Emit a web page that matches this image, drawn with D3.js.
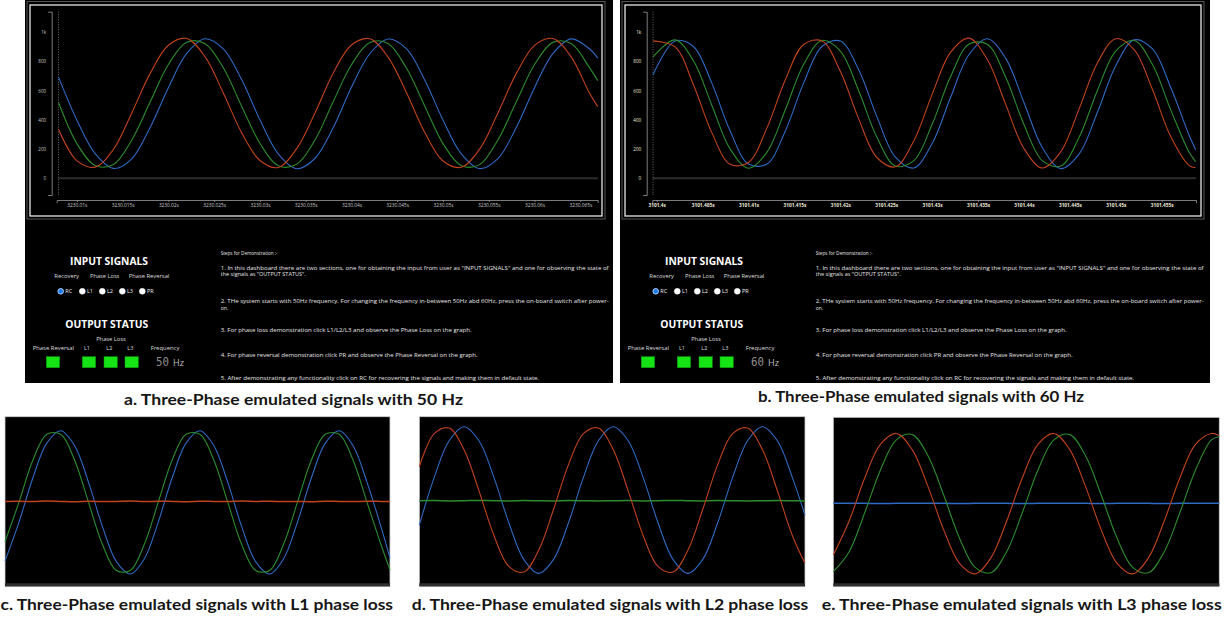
<!DOCTYPE html>
<html>
<head>
<meta charset="utf-8">
<script src="https://d3js.org/d3.v7.min.js"></script>
<style>
  body { margin: 0; background: #fff; }
  svg { display: block; }
</style>
</head>
<body>
<svg id="chart" width="1229" height="617"></svg>
<script>
// ---------- data ----------
// a. 50 Hz run, time in ms after 3230 s
var aTime = [8,10,12,14,16,18,20,22,24,26,28,30,32,34,36,38,40,42,44,46,48,50,52,54,56,58,60,62,64,66,66.9];
var aL1 = [335,120,76,198,447,716,910,957,832,584, 312,121,73,201,444,719,912,955,829,587, 314,118,75,199,446,716,909,956,831,583, 490];
var aL2 = [518,238,87,94,262,521,779,931,921,756, 493,239,85,95,260,523,777,929,923,754, 495,237,86,93,262,521,778,930,922,757, 668];
var aL3 = [692,398,168,67,133,347,620,854,955,885, 675,400,166,65,135,345,622,852,953,887, 673,398,167,66,134,347,620,853,954,886, 822];
var aTickMs = [10,15,20,25,30,35,40,45,50,55,60,65];
var aTickLabels = ["3230.01s","3230.015s","3230.02s","3230.025s","3230.03s","3230.035s","3230.04s","3230.045s","3230.05s","3230.055s","3230.06s","3230.065s"];

// b. 60 Hz run, time in ms after 3101.4 s
var bTime = [-0.4,2,4,6,8,10,12,14,16,18,20,22,24,26,28,30,32,34,36,38,40,42,44,46,48,50,52,54,56,58,58.7];
var bL1 = [940,899,640,312,95,108,343,672,915,940,732,406,140,78,255,574,861,959,814,507,203,70,180,473,789,955,881,607,283,86,72];
var bL2 = [830,947,804,500,200,68,177,467,779,943,870,599,278,83,120,369,694,917,917,693,368,120,83,279,600,870,943,778,466,177,114];
var bL3 = [708,939,902,651,323,97,97,322,651,902,939,742,418,144,70,237,552,845,955,822,518,210,66,165,451,770,947,885,619,292,195];
var bTickMs = [0,5,10,15,20,25,30,35,40,45,50,55];
var bTickLabels = ["3101.4s","3101.405s","3101.41s","3101.415s","3101.42s","3101.425s","3101.43s","3101.435s","3101.44s","3101.445s","3101.45s","3101.455s"];

var yTicks = [0,200,400,600,800,1000];
var yTickLabels = ["0","200","400","600","800","1k"];

// c. L1 lost
var cTime = [0,2,4,6,8,10,12,14,16,18,20,22,24,26,28,30,32,34,36,38,40,42,44,46,48,50,52,54,55.3];
var cL1 = [521,522,520,523,521,519,522,520,521,523,520,522,521,519,522,521,520,523,521,522,520,521,519,522,521,520,522,521,520];
var cL2 = [270,515,777,938,938,777,515,253,92,92, 253,515,777,938,938,777,515,253,92,92, 253,515,777,938,938,777,515,253, 95];
var cL3 = [150,391,666,883,960,867,639,364,147,70, 163,391,666,883,960,867,639,364,147,70, 163,391,666,883,960,867,639,364, 168];

// d. L2 lost
var dTime = [0,2,4,6,8,10,12,14,16,18,20,22,24,26,28,30,32,34,36,38,40,42,44,46,48,50,51.7];
var dL1 = [717,918,952,820,571,300,112,78,210,459, 730,918,952,820,571,300,112,78,210,459, 730,918,952,820,571,300, 131];
var dL2 = [511,512,510,511,513,511,510,512,511,510,512,511,510,511,512,510,511,513,511,510,512,511,510,511,512,511,510];
var dL3 = [363,653,875,960,875,653,377,155,70,155, 377,653,875,960,875,653,377,155,70,155, 377,653,875,960,875,653, 424];

// e. L3 lost
var eTime = [0,2,4,6,8,10,12,14,16,18,20,22,24,26,28,30,32,34,36,38,40,42,44,46,48,49];
var eL1 = [190,404,679,891,959,858,626,351,139,71, 172,404,679,891,959,858,626,351,139,71, 172,404,679,891,959, 945];
var eL2 = [85,210,459,730,918,952,820,571,300,112, 78,210,459,730,918,952,820,571,300,112, 78,210,459,730,918, 940];
var eL3 = [517,518,517,516,517,518,517,517,516,517,518,517,516,517,518,517,517,516,517,518,517,516,517,518,517,517];

var steps = [
  "Steps for Demonstration :-",
  "1. In this dashboard there are two sections, one for obtaining the input from user as \"INPUT SIGNALS\" and one for observing the state of",
  "the signals as \"OUTPUT STATUS\".",
  "2. THe system starts with 50Hz frequency. For changing the frequency in-between 50Hz abd 60Hz, press the on-board switch after power-",
  "on.",
  "3. For phase loss demonstration click L1/L2/L3 and observe the Phase Loss on the graph.",
  "4. For phase reversal demonstration click PR and observe the Phase Reversal on the graph.",
  "5. After demonstrating any functionality click on RC for recovering the signals and making them in default state."
];

// ---------- drawing ----------
var svg = d3.select("#chart");
var COL = { L1: "#c0421c", L2: "#2c8c2e", L3: "#2e69c2" };
var UI = "'Open Sans', 'Noto Sans', sans-serif";

function txt(g, x, y, s, size, o) {
  o = o || {};
  var t = g.append("text").attr("x", x).attr("y", y).text(s)
    .attr("font-family", o.family || UI)
    .attr("font-size", size)
    .attr("font-weight", o.weight || "normal")
    .attr("fill", o.fill || "#ddd")
    .attr("text-anchor", o.anchor || "start");
  if (o.len) t.attr("textLength", o.len).attr("lengthAdjust", "spacingAndGlyphs");
  return t;
}

function dashboard(p) {
  var g = svg.append("g").attr("transform", "translate(" + p.dx + ",0)");
  g.append("rect").attr("x", 25).attr("y", 0).attr("width", p.bgW).attr("height", 383).attr("fill", "#000");
  g.append("rect").attr("x", 27).attr("y", 1.5).attr("width", p.frameW + 6).attr("height", 217.5)
    .attr("fill", "none").attr("stroke", "#555").attr("stroke-width", 1);
  g.append("rect").attr("x", 30).attr("y", 5).attr("width", p.frameW).attr("height", 211)
    .attr("fill", "none").attr("stroke", "#e6e6e6").attr("stroke-width", 1.3);

  var x = d3.scaleLinear().domain(p.xDomain).range(p.xRange);
  var y = d3.scaleLinear().domain([-115, 1140]).range([195, 11.7]);

  // zero line and start marker
  g.append("line").attr("x1", x(p.time[0])).attr("x2", p.xRange[1])
    .attr("y1", y(0)).attr("y2", y(0)).attr("stroke", "#2c2c2c").attr("stroke-width", 2);
  g.append("line").attr("x1", x(p.time[0])).attr("x2", x(p.time[0]))
    .attr("y1", 11.7).attr("y2", 195).attr("stroke", "#999").attr("stroke-width", 0.7)
    .attr("stroke-dasharray", "1,1.5");

  var ya = g.append("g").attr("transform", "translate(" + p.yAxisX + ",0)")
    .call(d3.axisLeft(y).tickValues(yTicks)
      .tickFormat(function(d) { return yTickLabels[yTicks.indexOf(d)]; })
      .tickSizeInner(0).tickSizeOuter(3.5).tickPadding(5.5));
  var xa = g.append("g").attr("transform", "translate(0,200)")
    .call(d3.axisBottom(x).tickValues(p.ticks)
      .tickFormat(function(d) { return p.tickLabels[p.ticks.indexOf(d)]; })
      .tickSizeInner(2).tickSizeOuter(3).tickPadding(1.5));
  [ya, xa].forEach(function(a) {
    a.select(".domain").attr("stroke", "#9a9a9a").attr("stroke-width", 0.8);
    a.selectAll(".tick line").attr("stroke", "#9a9a9a").attr("stroke-width", 0.7);
    a.selectAll("text").attr("font-family", UI).attr("fill", p.labelFill);
  });
  ya.selectAll("text").attr("font-size", 4.6);
  xa.selectAll("text").attr("font-size", 4.8).attr("font-weight", p.labelWeight);

  var line = d3.line().curve(d3.curveCatmullRom.alpha(0.5))
    .x(function(d, i) { return x(p.time[i]); })
    .y(function(d) { return y(d); });
  [["L3", p.L3], ["L2", p.L2], ["L1", p.L1]].forEach(function(s) {
    g.append("path").attr("d", line(s[1])).attr("fill", "none")
      .attr("stroke", COL[s[0]]).attr("stroke-width", 1.1);
  });

  // controls
  txt(g, 109, 265, "INPUT SIGNALS", 10.5, { weight: "bold", fill: "#fff", anchor: "middle", len: 78 });
  txt(g, 66.7, 278.3, "Recovery", 5.5, { anchor: "middle", len: 24.7 });
  txt(g, 104.7, 278.3, "Phase Loss", 5.5, { anchor: "middle", len: 29.3 });
  txt(g, 149, 278.3, "Phase Reversal", 5.5, { anchor: "middle", len: 40.7 });
  var radios = [["RC", 60.7], ["L1", 82.3], ["L2", 102.3], ["L3", 122.3], ["PR", 142.3]];
  radios.forEach(function(r, i) {
    g.append("circle").attr("cx", r[1]).attr("cy", 291.3).attr("r", i === 0 ? 2.8 : 3)
      .attr("fill", i === 0 ? "#1e78e6" : "#fff")
      .attr("stroke", i === 0 ? "#bcd8ff" : "#fff").attr("stroke-width", i === 0 ? 0.9 : 0.4);
    txt(g, r[1] + 4.6, 293.2, r[0], 5.5, { fill: "#eee" });
  });
  txt(g, 106.7, 327.6, "OUTPUT STATUS", 10.5, { weight: "bold", fill: "#fff", anchor: "middle", len: 83 });
  txt(g, 111, 341, "Phase Loss", 5.5, { anchor: "middle", len: 29.7 });
  [["Phase Reversal", 53.3, 41.3], ["L1", 87, 0], ["L2", 109.3, 0], ["L3", 130.3, 0], ["Frequency", 165, 28.7]]
    .forEach(function(l) { txt(g, l[1], 350.3, l[0], 5.5, { anchor: "middle", len: l[2] || null }); });
  [46.3, 82.3, 104, 125].forEach(function(bx) {
    g.append("rect").attr("x", bx).attr("y", 356.7).attr("width", 13.3).attr("height", 11)
      .attr("fill", "#16e316").attr("stroke", "#0b9e0b").attr("stroke-width", 0.5);
  });
  txt(g, 156, 366, p.freq, 11.5, { family: "'DejaVu Sans Mono', monospace", fill: "#8e8e8e", len: 13 });
  txt(g, 173, 366, "Hz", 8.5, { fill: "#bdbdbd", len: 11 });

  var sx = 220.7, sy = [255.2, 269.8, 276.4, 303.2, 309.9, 331.9, 356.9, 379.9];
  var sl = [56.8, 388, 85, 388, 7.5, 251, 257, 318.5];
  steps.forEach(function(s, i) {
    txt(g, sx, sy[i], s, 5.2, { fill: "#e6e6e6", len: sl[i] });
  });
}

function scope(p) {
  var g = svg.append("g");
  g.append("rect").attr("x", p.x0).attr("y", p.y0).attr("width", p.x1 - p.x0).attr("height", p.y1 - p.y0)
    .attr("fill", "#000").attr("stroke", "#cfcfcf").attr("stroke-width", 0.8);
  g.append("line").attr("x1", p.x0).attr("x2", p.x1).attr("y1", p.y1 - 2).attr("y2", p.y1 - 2)
    .attr("stroke", "#2e2e2e").attr("stroke-width", 3);
  var x = d3.scaleLinear().domain([0, p.time[p.time.length - 1]]).range([p.x0, p.x1]);
  var y = d3.scaleLinear().domain(p.yDomain).range([p.y1, p.y0]);
  var line = d3.line().curve(d3.curveCatmullRom.alpha(0.5))
    .x(function(d, i) { return x(p.time[i]); })
    .y(function(d) { return y(d); });
  [["L3", p.L3], ["L2", p.L2], ["L1", p.L1]].forEach(function(s) {
    g.append("path").attr("d", line(s[1])).attr("fill", "none")
      .attr("stroke", COL[s[0]]).attr("stroke-width", s[0] === p.lost ? 1.5 : 1.1);
  });
}

function caption(x, y, s, len) {
  txt(svg, x, y, s, 15, { family: "Lato, 'Open Sans', sans-serif", weight: "bold", fill: "#161616", len: len });
}

dashboard({ dx: 0, bgW: 588, frameW: 572, yAxisX: 51.7, xRange: [56.7, 597.7], xDomain: [7.8, 66.9],
  time: aTime, L1: aL1, L2: aL2, L3: aL3, ticks: aTickMs, tickLabels: aTickLabels,
  labelFill: "#c8c8c8", labelWeight: "normal", freq: "50" });
dashboard({ dx: 595, bgW: 590, frameW: 576, yAxisX: 51.7, xRange: [57.3, 601], xDomain: [-0.48, 58.74],
  time: bTime, L1: bL1, L2: bL2, L3: bL3, ticks: bTickMs, tickLabels: bTickLabels,
  labelFill: "#ecead8", labelWeight: "bold", freq: "60" });

scope({ x0: 5, x1: 390, y0: 416.7, y1: 586.7, yDomain: [-9, 1047], time: cTime, L1: cL1, L2: cL2, L3: cL3, lost: "L1" });
scope({ x0: 419.3, x1: 805, y0: 416.7, y1: 586.7, yDomain: [-11, 1021], time: dTime, L1: dL1, L2: dL2, L3: dL3, lost: "L2" });
scope({ x0: 833.3, x1: 1219.3, y0: 417.3, y1: 586.7, yDomain: [-10, 1061], time: eTime, L1: eL1, L2: eL2, L3: eL3, lost: "L3" });

caption(124, 405, "a. Three-Phase emulated signals with 50 Hz", 339);
caption(758, 402, "b. Three-Phase emulated signals with 60 Hz", 326);
caption(0.5, 610, "c. Three-Phase emulated signals with L1 phase loss", 392.5);
caption(411.7, 610, "d. Three-Phase emulated signals with L2 phase loss", 396.6);
caption(821.7, 610, "e. Three-Phase emulated signals with L3 phase loss", 400);
</script>
</body>
</html>
